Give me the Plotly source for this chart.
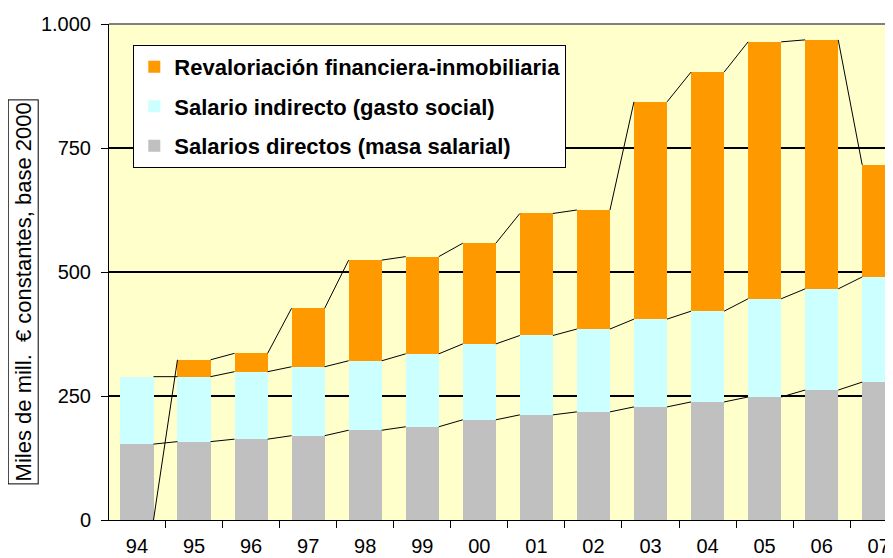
import plotly.graph_objects as go

years = ["94", "95", "96", "97", "98", "99", "00", "01", "02", "03", "04", "05", "06", "07"]
salarios_directos = [153, 158, 163, 170, 181, 188, 202, 212, 218, 228, 238, 248, 262, 278]
salario_indirecto = [136, 131, 136, 139, 140, 147, 153, 160, 167, 177, 183, 198, 204, 212]
revalorizacion = [None, 34, 37, 118, 203, 196, 203, 246, 240, 438, 482, 518, 502, 226]

y_ticks = [0, 250, 500, 750, 1000]
y_ticktext = ["0", "250", "500", "750", "1.000"]

names = ["Salarios directos (masa salarial)",
         "Salario indirecto (gasto social)",
         "Revaloriación financiera-inmobiliaria"]
colors = ["#C0C0C0", "#CCFFFF", "#FF9900"]
ranks = [3, 2, 1]

x = list(range(len(years)))
BW = 0.58

fig = go.Figure()
series = [salarios_directos, salario_indirecto, revalorizacion]
for i, (vals, nm, col) in enumerate(zip(series, names, colors)):
    fig.add_trace(go.Bar(x=x, y=vals, name=nm, marker=dict(color=col, line=dict(width=0)),
                         width=BW, legendgroup=f"g{i}", legendrank=ranks[i]))

# cumulative tops for Excel-style series lines
cum = [0] * len(years)
tops = []
for vals in series:
    lvl = []
    for j, v in enumerate(vals):
        if v is None:
            lvl.append(0)
        else:
            cum[j] += v
            lvl.append(cum[j])
    tops.append(lvl)

for lvl in tops:
    lx, ly = [], []
    for j in range(len(years) - 1):
        lx += [x[j] + BW / 2, x[j + 1] - BW / 2, None]
        ly += [lvl[j], lvl[j + 1], None]
    fig.add_trace(go.Scatter(x=lx, y=ly, mode="lines", line=dict(color="black", width=1),
                             showlegend=False, hoverinfo="skip"))

# the page body adds an 8px offset; the figure is sized to compensate
fig.update_layout(
    width=885, height=550,
    margin=dict(l=101, r=0, t=16, b=38, autoexpand=False),
    barmode="stack",
    paper_bgcolor="white",
    plot_bgcolor="#FFFFCC",
    font=dict(family="Liberation Sans, Arial, sans-serif", size=20, color="black"),
    legend=dict(
        x=0.031, y=0.958, xanchor="left", yanchor="top",
        traceorder="grouped", tracegroupgap=8,
        bgcolor="white", bordercolor="black", borderwidth=1,
        font=dict(family="Liberation Sans, Arial, sans-serif", size=22, weight=700),
    ),
    showlegend=True,
)

fig.update_xaxes(
    range=[-0.49, 13.25],
    tickvals=x, ticktext=years, ticks="",
    showgrid=False, zeroline=False,
    showline=True, linecolor="black", linewidth=1,
    ticklabelstandoff=8,
    tickfont=dict(size=20),
    automargin=False,
    minor=dict(tick0=-0.5, dtick=1, ticks="outside", ticklen=7, tickcolor="black", tickwidth=1, showgrid=False),
)
fig.update_yaxes(
    range=[0, 1000],
    tickvals=y_ticks, ticktext=y_ticktext,
    ticks="outside", ticklen=7, tickcolor="black",
    showgrid=True, gridcolor="black", gridwidth=1.5,
    zeroline=False,
    showline=True, linecolor="black", linewidth=1,
    ticklabelstandoff=6,
    tickfont=dict(size=20),
    automargin=False,
)

# top border of plot area
fig.add_shape(type="line", xref="paper", yref="paper", x0=0, x1=1, y0=1, y1=1,
              line=dict(color="#808080", width=2))

fig.add_annotation(
    text="Miles de mill.\u00a0 € constantes, base 2000",
    xref="paper", yref="paper", x=-0.109, y=0.46,
    xanchor="center", yanchor="middle", textangle=-90, showarrow=False,
    font=dict(size=22), bordercolor="black", borderwidth=1, borderpad=2, bgcolor="white",
)

fig.write_html("out.html")
